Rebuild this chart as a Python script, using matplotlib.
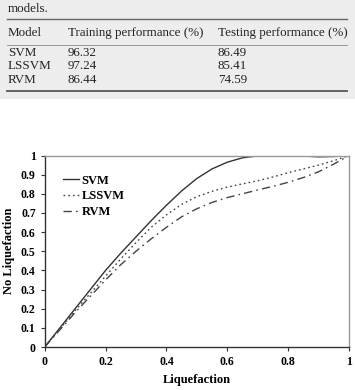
#!/usr/bin/env python

import matplotlib
matplotlib.use("Agg")
import matplotlib.pyplot as plt
from matplotlib.lines import Line2D
from matplotlib.patches import Rectangle

# table values
models = ["SVM", "LSSVM", "RVM"]
trainPerf = ["96.32", "97.24", "86.44"]
testPerf = ["86.49", "85.41", "74.59"]
colHeads = ["Model", "Training performance (%)", "Testing performance (%)"]

# curves
liq = [0.0, 0.05, 0.1, 0.15, 0.2, 0.25, 0.3, 0.35, 0.4, 0.45, 0.5,
       0.55, 0.6, 0.65, 0.7, 0.75, 0.8, 0.85, 0.9, 0.95, 1.0]
svm = [0.0, 0.10, 0.20, 0.30, 0.40, 0.49, 0.575, 0.66, 0.74, 0.815, 0.88,
       0.93, 0.965, 0.988, 0.998, 1.0, 1.0, 0.997, 0.993, 0.995, 1.0]
lssvm = [0.0, 0.095, 0.19, 0.28, 0.37, 0.46, 0.545, 0.625, 0.69, 0.745, 0.785,
         0.813, 0.835, 0.852, 0.868, 0.888, 0.91, 0.93, 0.95, 0.973, 1.0]
rvm = [0.0, 0.09, 0.18, 0.265, 0.35, 0.43, 0.50, 0.565, 0.625, 0.68, 0.722,
       0.755, 0.78, 0.8, 0.82, 0.839, 0.86, 0.885, 0.915, 0.955, 1.0]

yTicks = [0.0, 0.1, 0.2, 0.3, 0.4, 0.5, 0.6, 0.7, 0.8, 0.9, 1.0]
yTickLabels = ["0", "0.1", "0.2", "0.3", "0.4", "0.5", "0.6", "0.7", "0.8", "0.9", "1"]
xTicks = [0.0, 0.2, 0.4, 0.6, 0.8, 1.0]
xTickLabels = ["0", "0.2", "0.4", "0.6", "0.8", "1"]

W, H = 355.0, 390.0
SERIF = ["Liberation Serif", "DejaVu Serif"]


def px(x, y) :
    # pixel coords (from top left) -> figure fraction
    return x / W, 1.0 - y / H


def DrawTable(fig) :
    fig.patches.append(Rectangle(px(0, 99), 1.0, 99 / H, transform=fig.transFigure,
                                 facecolor="#ededed", edgecolor="none", zorder=0))

    fs = 9.4
    fig.text(*px(8, 9), "models.", family=SERIF, fontsize=fs, va="center", color="#222222")

    for yy, lw, col in [(19, 1.0, "#666666"), (45, 0.6, "#888888"), (90.7, 1.3, "#555555")] :
        x0, y0 = px(7, yy)
        x1, _ = px(347, yy)
        fig.add_artist(Line2D([x0, x1], [y0, y0], transform=fig.transFigure,
                              color=col, linewidth=lw))

    colX = [8, 68, 218]
    for cx, head in zip(colX, colHeads) :
        fig.text(*px(cx, 33), head, family=SERIF, fontsize=fs, va="center", color="#222222")

    for rowY, name, tr, te in zip([52.5, 66, 80], models, trainPerf, testPerf) :
        for cx, txt in zip(colX, [name, tr, te]) :
            fig.text(*px(cx, rowY), txt, family=SERIF, fontsize=fs, va="center", color="#222222")


def DrawCurves(ax) :
    ax.plot(liq, svm, color="#333333", linewidth=1.0, linestyle="-", label="SVM")
    ax.plot(liq, lssvm, color="#444444", linewidth=1.0, linestyle=(0, (1.2, 2.2)), label="LSSVM")
    ax.plot(liq, rvm, color="#444444", linewidth=1.0, linestyle=(0, (6, 3, 1.2, 3)), label="RVM")

    ax.set_xlim(0, 1)
    ax.set_ylim(0, 1)
    ax.set_xticks(xTicks)
    ax.set_xticklabels(xTickLabels)
    ax.set_yticks(yTicks)
    ax.set_yticklabels(yTickLabels)
    ax.tick_params(direction="out", length=3, width=0.8, pad=3.5, labelsize=8.5, color="#333333")
    for lab in ax.get_xticklabels() + ax.get_yticklabels() :
        lab.set_family(SERIF)
        lab.set_fontweight("bold")

    ax.spines["left"].set_color("#333333")
    ax.spines["bottom"].set_color("#333333")
    ax.spines["top"].set_color("#999999")
    ax.spines["right"].set_color("#999999")
    for sp in ax.spines.values() :
        sp.set_linewidth(1.0)

    ax.set_xlabel("Liquefaction", family=SERIF, fontweight="bold", fontsize=9, labelpad=4.5)
    ax.set_ylabel("No Liquefaction", family=SERIF, fontweight="bold", fontsize=9, labelpad=4)

    ax.legend(loc="upper left", bbox_to_anchor=(0.06, 0.9), frameon=False,
              borderpad=0, borderaxespad=0, handlelength=1.3, handletextpad=0.2,
              labelspacing=0.3, prop={"family": SERIF, "weight": "bold", "size": 9})


def main() :
    theFig = plt.figure(figsize=(W / 100, H / 100), dpi=100)
    theFig.patch.set_facecolor("white")

    DrawTable(theFig)

    ax = theFig.add_axes([44.7 / W, 43.0 / H, 304.3 / W, 191.5 / H])
    DrawCurves(ax)

    theFig.savefig("out.png", dpi=100)


if __name__ == '__main__' :
    main()
